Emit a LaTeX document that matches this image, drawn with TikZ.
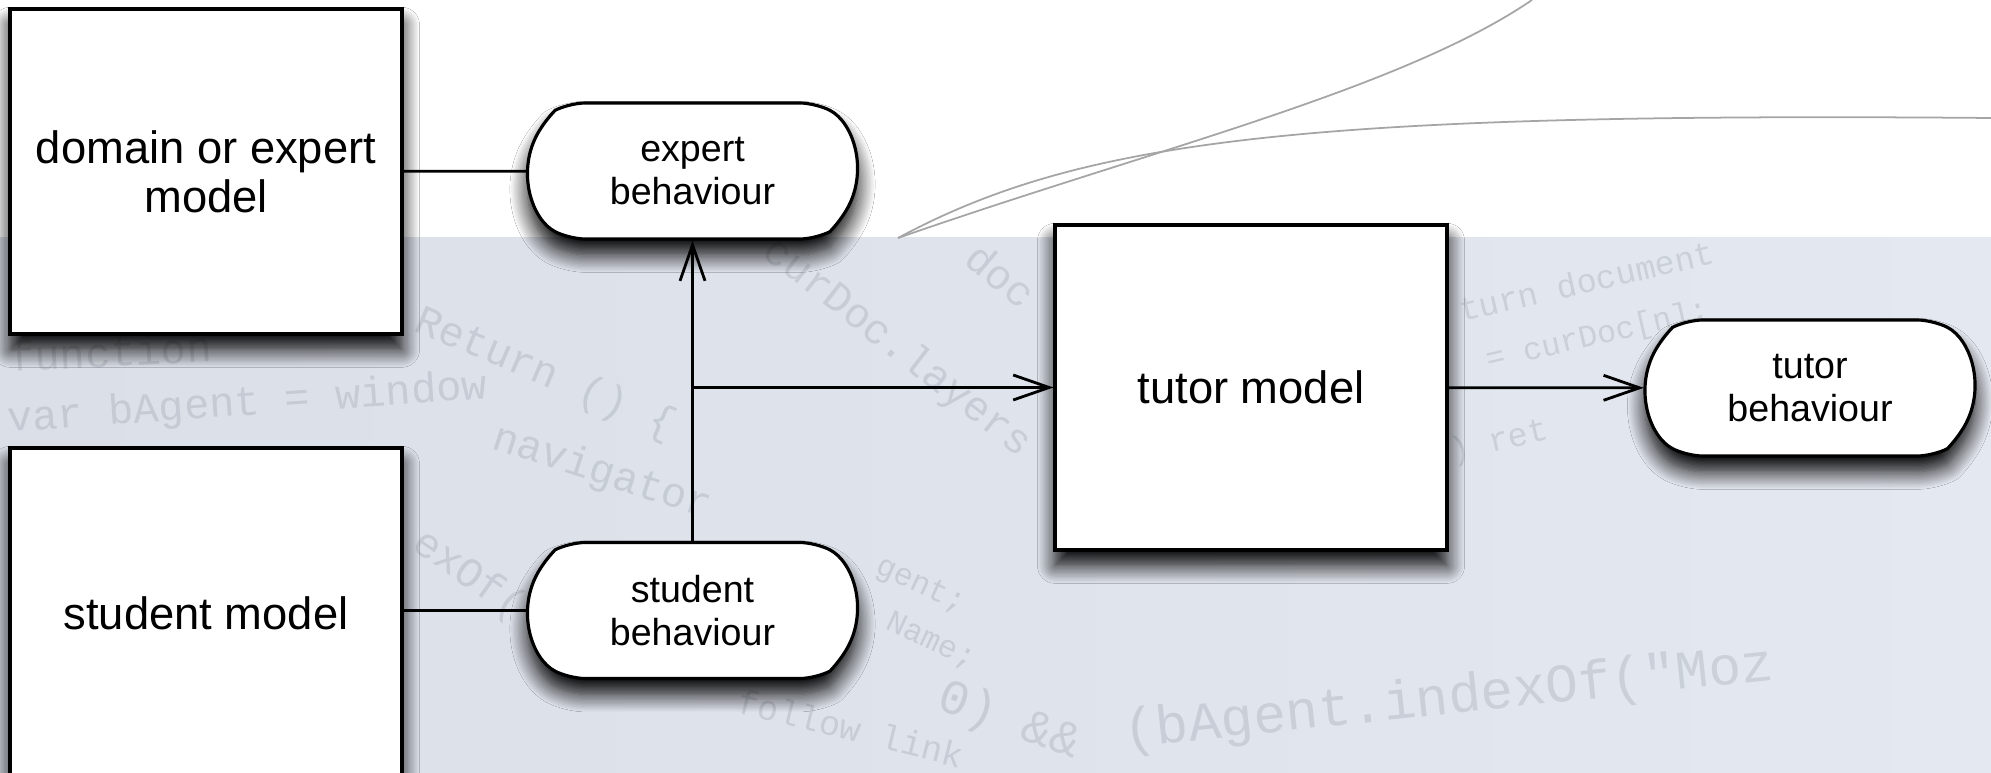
\documentclass[tikz,border=0pt]{standalone}
\usepackage{fontspec}
\setmainfont{Liberation Sans}
\newfontfamily\codefont{Liberation Mono}
\usepackage{tikz}
\usetikzlibrary{arrows.meta,shapes.misc,shadows.blur}

\definecolor{screenblue}{RGB}{228,232,240}
\definecolor{screenblueleft}{RGB}{218,223,232}
\definecolor{codegray}{RGB}{110,116,130}
\definecolor{curvegray}{RGB}{165,165,165}

\begin{document}
\begin{tikzpicture}[x=0.02cm, y=-0.02cm,
  model/.style={draw, line width=1.8pt, fill=white, minimum width=7.84cm,
    minimum height=6.5cm, align=center, font=\fontsize{25.8}{28}\selectfont,
    blur shadow={shadow xshift=0pt, shadow yshift=-9pt, shadow blur radius=10pt,
      shadow opacity=100, shadow blur steps=14}},
  behav/.style={draw, line width=1.8pt, fill=white, rounded rectangle,
    rounded rectangle arc length=125, rounded corners=9pt, minimum width=6.82cm,
    minimum height=2.72cm, align=center, font=\fontsize{21.4}{24.5}\selectfont,
    blur shadow={shadow xshift=0pt, shadow yshift=-9pt, shadow blur radius=10pt,
      shadow opacity=100, shadow blur steps=14}},
  link/.style={line width=1.6pt},
  arr/.style={line width=1.6pt, -{Straight Barb[length=0.72cm, width=0.5cm, line width=1.6pt]}},
  code/.style={text=codegray, text opacity=0.2, anchor=base west, inner sep=0pt,
    font=\codefont\fontsize{24}{24}\selectfont}]
  \useasboundingbox (0,0) rectangle (1991,773);
  \clip (0,0) rectangle (1991,773);

  % background
  \fill[white] (0,0) rectangle (1991,773);
  \shade[left color=screenblueleft, right color=screenblue] (0,238) rectangle (1991,773);
  \draw[curvegray, line width=1pt] (898,238) .. controls (1150,150) and (1400,90) .. (1532,0);
  \draw[curvegray, line width=1pt] (898,238) .. controls (1080,140) and (1300,112) .. (1991,118);

  % faded code
  \node[code, rotate=3] (code1) at (10,372) {function};
  \node[code, rotate=4] (code2) at (8,432) {var bAgent = window};
  \node[code, rotate=-23] (code3) at (412,330) {Return () \{};
  \node[code, rotate=-18] (code4) at (490,448) {navigator};
  \node[code, rotate=-35] (code5) at (410,548) {exOf("};
  \node[code, rotate=-38] (code6) at (760,255) {curDoc.layers};
  \node[code, rotate=-40] (code7) at (962,262) {doc};
  \node[code, rotate=-25, font=\codefont\fontsize{18}{18}\selectfont] (code8) at (874,572) {gent;};
  \node[code, rotate=-25, font=\codefont\fontsize{18}{18}\selectfont] (code9) at (884,628) {Name;};
  \node[code, rotate=-14, font=\codefont\fontsize{20}{20}\selectfont] (code10) at (735,712) {follow link};
  \node[code, rotate=-20, font=\codefont\fontsize{28}{28}\selectfont] (code11) at (935,708) {0) \&\&};
  \node[code, rotate=6, font=\codefont\fontsize{31}{31}\selectfont] (code12) at (1125,748) {(bAgent.indexOf("Moz};
  \node[code, rotate=13, font=\codefont\fontsize{19}{19}\selectfont] (code13) at (1462,322) {turn document};
  \node[code, rotate=13, font=\codefont\fontsize{18}{18}\selectfont] (code14) at (1488,370) {= curDoc[n];};
  \node[code, rotate=13, font=\codefont\fontsize{19}{19}\selectfont] (code15) at (1452,462) {) ret};

  % models and behaviours
  \node[model] (domain) at (206,171.5) {domain or expert\\model};
  \node[model, minimum height=6.6cm] (student) at (206,613) {student model};
  \node[model] (tutor) at (1251,387.5) {tutor model};
  \node[behav] (expert) at (692.5,171) {expert\\behaviour};
  \node[behav] (studentb) at (692.5,610.5) {student\\behaviour};
  \node[behav] (tutorb) at (1810,388) {tutor\\behaviour};

  % connectors
  \draw[link] (domain) -- (expert);
  \draw[link] (studentb.west -| student.east) -- (studentb.west);
  \draw[arr, {Straight Barb[length=0.72cm, width=0.5cm, line width=1.6pt]}-] (expert) -- (studentb);
  \coordinate (split) at (expert.south |- tutor.west);
  \draw[arr] (split) -- (tutor.west);
  \draw[arr] (tutor) -- (tutorb);
\end{tikzpicture}
\end{document}
